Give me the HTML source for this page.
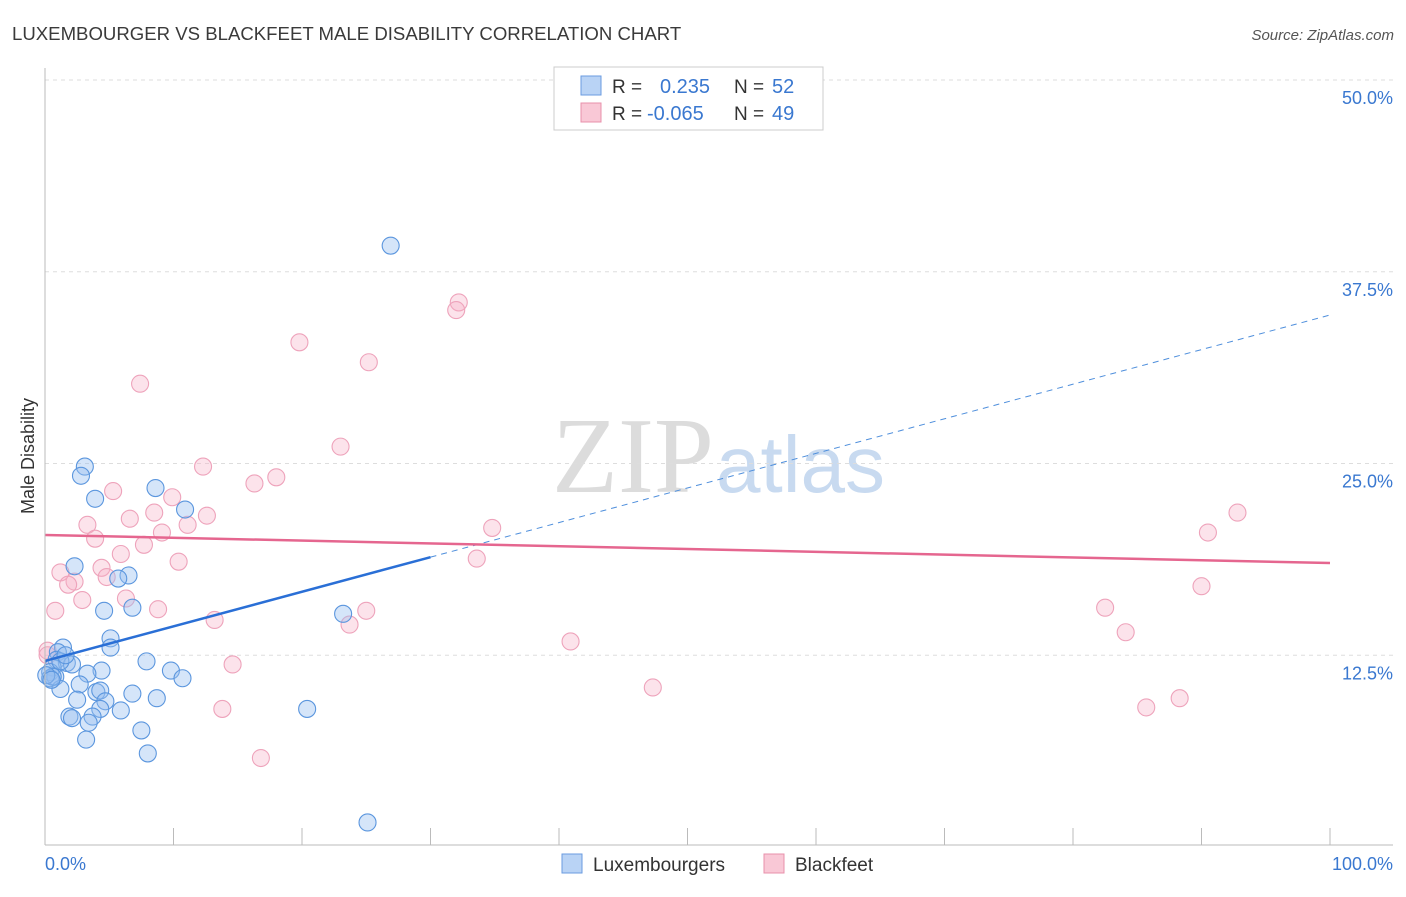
<!DOCTYPE html>
<html><head><meta charset="utf-8"><style>
body{margin:0;background:#fff;font-family:"Liberation Sans",sans-serif}
</style></head><body>
<svg id="c" width="1406" height="892" xmlns="http://www.w3.org/2000/svg">
<text x="12" y="40" font-size="18.6" fill="#3a3a3a">LUXEMBOURGER VS BLACKFEET MALE DISABILITY CORRELATION CHART</text>
<text x="1394" y="40" font-size="15" fill="#555" font-style="italic" text-anchor="end">Source: ZipAtlas.com</text>
<text x="34" y="456" font-size="18" fill="#333" transform="rotate(-90 34 456)" text-anchor="middle">Male Disability</text>
<text x="714" y="492" font-size="108" fill="#dcdcdc" text-anchor="end" font-family="Liberation Serif,serif">ZIP</text>
<text x="716" y="492" font-size="80" fill="#c8daf0">atlas</text>
<g id="grid"></g><g id="pts"></g><g id="lines"></g>
<line x1="45" y1="68" x2="45" y2="845" stroke="#bbb"/>
<line x1="45" y1="845" x2="1393" y2="845" stroke="#bbb"/>
<text x="45" y="870" font-size="18" fill="#3a78d0">0.0%</text>
<text x="1393" y="870" font-size="18" fill="#3a78d0" text-anchor="end">100.0%</text>
<g>
<rect x="554" y="67" width="269" height="63" fill="#fff" stroke="#ccc"/>
<rect x="581" y="76" width="20" height="19" fill="#b9d3f5" stroke="#6a9be0"/>
<rect x="581" y="103" width="20" height="19" fill="#f9c8d6" stroke="#e890ab"/>
<text x="612" y="93" font-size="19" fill="#333">R =</text><text x="660" y="93" font-size="20" fill="#3a78d0">0.235</text>
<text x="734" y="93" font-size="19" fill="#333">N =</text><text x="772" y="93" font-size="20" fill="#3a78d0">52</text>
<text x="612" y="120" font-size="19" fill="#333">R =</text><text x="647" y="120" font-size="20" fill="#3a78d0">-0.065</text>
<text x="734" y="120" font-size="19" fill="#333">N =</text><text x="772" y="120" font-size="20" fill="#3a78d0">49</text>
</g>
<g>
<rect x="562" y="854" width="20" height="19" fill="#b9d3f5" stroke="#6a9be0"/>
<text x="593" y="871" font-size="19" fill="#333">Luxembourgers</text>
<rect x="764" y="854" width="20" height="19" fill="#f9c8d6" stroke="#e890ab"/>
<text x="795" y="871" font-size="19" fill="#333">Blackfeet</text>
</g>
</svg>
<script>
const yTicks=[12.5,25,37.5,50];
const yTickLabels=["12.5%","25.0%","37.5%","50.0%"];
const xTickVals=[0,10,20,30,40,50,60,70,80,90,100];
const luxX=[26.9,3.1,2.8,3.9,8.6,10.9,2.3,6.5,5.7,6.8,4.6,23.2,5.1,5.1,1.4,1.0,0.9,1.7,2.1,0.6,0.4,0.4,0.8,7.9,9.8,10.7,4.4,3.3,2.7,1.2,4.0,4.3,6.8,8.7,2.5,4.7,5.9,4.3,1.9,2.1,3.7,3.4,7.5,3.2,8.0,20.4,25.1,0.6,1.2,1.6,0.1,0.5];
const luxY=[39.2,24.8,24.2,22.7,23.4,22.0,18.3,17.7,17.5,15.6,15.4,15.2,13.6,13.0,13.0,12.7,12.2,12.0,11.9,11.7,11.4,11.0,11.1,12.1,11.5,11.0,11.5,11.3,10.6,10.3,10.1,10.2,10.0,9.7,9.6,9.5,8.9,9.0,8.5,8.4,8.5,8.1,7.6,7.0,6.1,9.0,1.6,11.1,12.1,12.5,11.2,10.9];
const blkX=[32.2,32.0,19.8,25.2,7.4,23.0,12.3,18.0,16.3,5.3,9.9,8.5,6.6,12.6,11.1,3.3,9.1,3.9,34.8,7.7,5.9,10.4,33.6,4.4,1.2,4.8,2.3,1.8,6.3,2.9,0.8,8.8,25.0,13.2,23.7,82.5,84.1,90.0,90.5,92.8,40.9,14.6,47.3,85.7,88.3,13.8,16.8,0.2,0.2];
const blkY=[35.5,35.0,32.9,31.6,30.2,26.1,24.8,24.1,23.7,23.2,22.8,21.8,21.4,21.6,21.0,21.0,20.5,20.1,20.8,19.7,19.1,18.6,18.8,18.2,17.9,17.6,17.3,17.1,16.2,16.1,15.4,15.5,15.4,14.8,14.5,15.6,14.0,17.0,20.5,21.8,13.4,11.9,10.4,9.1,9.7,9.0,5.8,12.8,12.5];
const luxTrend=[12.13,34.68];
const luxSolidEnd=30;
const blkTrend=[20.34,18.51];
const NS="http://www.w3.org/2000/svg";
const sx=v=>45+v*12.85, sy=v=>847-v*15.34;
function mk(t,a,p){const e=document.createElementNS(NS,t);for(const k in a)e.setAttribute(k,a[k]);p.appendChild(e);return e;}
const grid=document.getElementById('grid');
yTicks.forEach((t,i)=>{
 const l=mk('line',{x1:45,x2:1393,y1:sy(t),y2:sy(t),stroke:'#ddd','stroke-dasharray':'4,4'},grid);
 
 
 const tx=mk('text',{x:1393,y:sy(t)+24,'font-size':18,fill:'#3a78d0','text-anchor':'end'},grid);
 tx.textContent=yTickLabels[i];
 
 
});
xTickVals.forEach(v=>{
 const l=mk('line',{x1:sx(v),x2:sx(v),y1:828,y2:845,stroke:'#bbb'},grid);
 
 
});
const pts=document.getElementById('pts');
blkX.forEach((x,i)=>{
 const c=mk('circle',{cx:sx(x),cy:sy(blkY[i]),r:8.5,fill:'rgba(245,175,198,0.35)',stroke:'#eea3bb','stroke-width':1.1},pts);
 
 
});
luxX.forEach((x,i)=>{
 const c=mk('circle',{cx:sx(x),cy:sy(luxY[i]),r:8.5,fill:'rgba(150,190,240,0.4)',stroke:'#5b96de','stroke-width':1.1},pts);
 
 
});
const ln=document.getElementById('lines');
const ly=x=>luxTrend[0]+(luxTrend[1]-luxTrend[0])*x/100;
let a=mk('line',{x1:sx(0),y1:sy(ly(0)),x2:sx(luxSolidEnd),y2:sy(ly(luxSolidEnd)),stroke:'#2a6fd6','stroke-width':2.5},ln);


a=mk('line',{x1:sx(luxSolidEnd),y1:sy(ly(luxSolidEnd)),x2:sx(100),y2:sy(ly(100)),stroke:'#4f8fdc','stroke-width':1,'stroke-dasharray':'6,5'},ln);


a=mk('line',{x1:sx(0),y1:sy(blkTrend[0]),x2:sx(100),y2:sy(blkTrend[1]),stroke:'#e5668f','stroke-width':2.5},ln);


</script>
</body></html>
